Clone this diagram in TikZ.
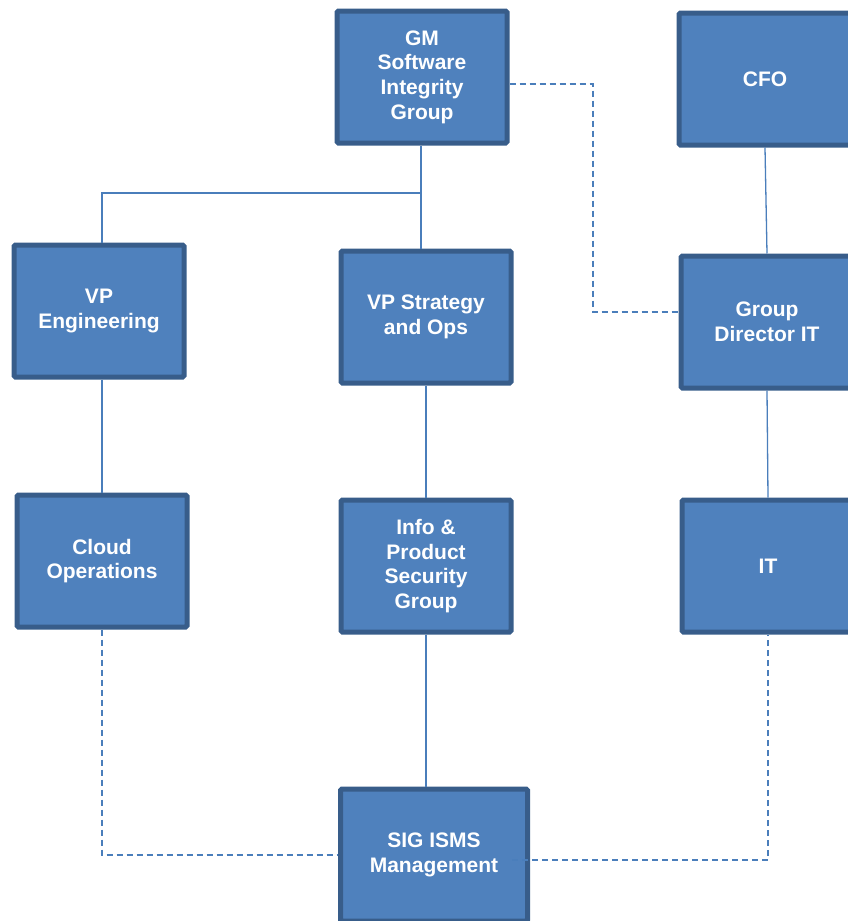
\documentclass[tikz,border=0pt]{standalone}
\usepackage{fontspec}
\setmainfont{Liberation Sans}
\definecolor{boxfill}{RGB}{79,129,189}
\definecolor{boxedge}{RGB}{56,93,138}
\definecolor{linkblue}{RGB}{74,126,187}
\tikzset{
  orgbox/.style={draw=boxedge,fill=boxfill,line width=5pt,rounded corners=1.5pt,
    minimum width=170pt,minimum height=132pt,inner sep=0pt,align=center,
    text=white,font=\fontsize{21}{24.7}\selectfont\bfseries},
  solidlink/.style={draw=linkblue,line width=1.3pt},
  dashlink/.style={draw=linkblue,line width=1.3pt,dash pattern=on 6pt off 4pt}
}
\begin{document}
\begin{tikzpicture}[x=1pt,y=-1pt]
	\useasboundingbox (0,0) rectangle (847,921);
	% top row
	\node[orgbox] (gm) at (422,77) {GM\\Software\\Integrity\\Group};
	\node[orgbox,minimum width=172pt] (cfo) at (765,79) {CFO};
	% second row
	\node[orgbox] (vpeng) at (99,311) {VP\\Engineering};
	\node[orgbox] (vpstrat) at (426,317) {VP Strategy\\and Ops};
	\node[orgbox,minimum width=172pt] (gdit) at (767,322) {Group\\Director IT};
	% third row
	\node[orgbox] (cloud) at (102,561) {Cloud\\Operations};
	\node[orgbox] (infosec) at (426,566) {Info \&\\Product\\Security\\Group};
	\node[orgbox,minimum width=172pt] (it) at (768,566) {IT};
	% bottom
	\node[orgbox,minimum width=187pt] (sig) at (434,855) {SIG ISMS\\Management};
	% solid reporting lines
	\coordinate (split) at (421,193);
	\coordinate (bend) at (593,312);
	\draw[solidlink] (gm.south -| split) -- (split) -- (split |- vpstrat.north);
	\draw[solidlink] (split) -| (cloud.north |- vpeng.north);
	\draw[solidlink] (cfo.south) -- (gdit.north);
	\draw[solidlink] (cloud.north |- vpeng.south) -- (cloud.north);
	\draw[solidlink] (vpstrat.south) -- (infosec.north);
	\draw[solidlink] (gdit.south) -- (it.north);
	\draw[solidlink] (infosec.south) -- (infosec.south |- sig.north);
	% dotted lines
	\draw[dashlink] ([yshift=-7pt]gm.east) -| (bend) -- ([yshift=10pt]gdit.west);
	\draw[dashlink] (cloud.south) |- (sig.west);
	\draw[dashlink] ([xshift=-18pt,yshift=-5pt]sig.east) -| (it.south);
\end{tikzpicture}
\end{document}
